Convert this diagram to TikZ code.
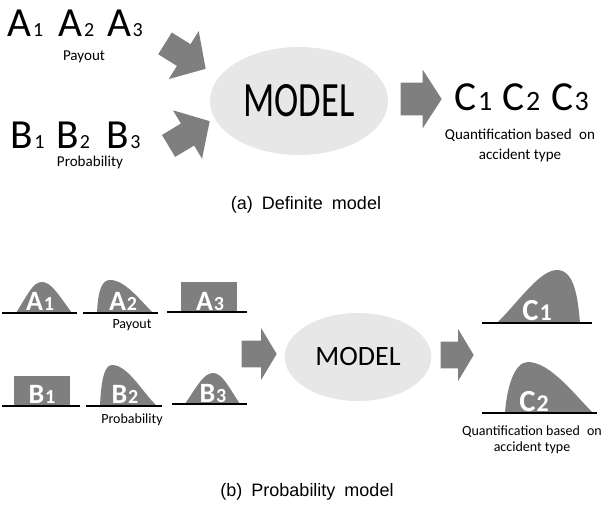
\documentclass[tikz,border=0pt]{standalone}
\usepackage{fontspec}
\setmainfont{Carlito}
\newfontfamily\capfont{Liberation Sans}
\newfontfamily\modelfont[FakeStretch=0.74]{Carlito}
\usetikzlibrary{shapes.arrows, shapes.geometric, positioning}

\definecolor{arrowgray}{RGB}{127,127,127}
\definecolor{ellgray}{RGB}{231,231,231}

% letter with a smaller figure on the same baseline
\newcommand{\sublbl}[3]{#1\kern.03em{\fontsize{#3}{#3}\selectfont #2}}

\begin{document}
\begin{tikzpicture}[
    x = 0.75pt, y = -0.75pt,
    bigarrow/.style = {single arrow, fill=arrowgray, draw=none, inner xsep=0pt, single arrow head indent=0pt, anchor=tip},
    modelbox/.style = {ellipse, fill=ellgray, draw=none, inner sep=0pt},
    toplbl/.style = {anchor=base, inner sep=0pt, font=\fontsize{31pt}{31pt}\selectfont},
    note/.style = {align=center, inner sep=0pt, font=\fontsize{11.3pt}{15pt}\selectfont},
    smallnote/.style = {align=center, inner sep=0pt, font=\fontsize{10.5pt}{12pt}\selectfont},
    bumplbl/.style = {anchor=base, inner sep=0pt, text=white, font=\bfseries\fontsize{21pt}{21pt}\selectfont},
    bump/.style = {fill=arrowgray},
    groundline/.style = {line width=1.2pt},
    caption/.style = {inner sep=0pt, font=\capfont\fontsize{13.5pt}{13.5pt}\selectfont}
]
    \useasboundingbox (0,0) rectangle (605,506);

    % (a) definite model
    \node [toplbl] (a1) at (25.5,37) {\sublbl{A}{1}{15pt}};
    \node [toplbl] (a2) at (76.5,37) {\sublbl{A}{2}{15pt}};
    \node [toplbl] (a3) at (125,37) {\sublbl{A}{3}{15pt}};
    \node [note] (payout) at (84,57) {Payout};
    \node [toplbl] (b1) at (27.5,148) {\sublbl{B}{1}{15pt}};
    \node [toplbl] (b2) at (73,148) {\sublbl{B}{2}{15pt}};
    \node [toplbl] (b3) at (123.5,148) {\sublbl{B}{3}{15pt}};
    \node [note] (prob) at (90,162) {Probability};

    \node [modelbox, minimum width=133.5pt, minimum height=81pt] (model) at (299,101)
        {\modelfont\fontsize{37pt}{37pt}\selectfont MODEL};
    \node [bigarrow, rotate=-32, minimum height=36pt, inner ysep=9.4pt,
           single arrow head extend=11.6pt, single arrow tip angle=95] (inA) at (206,69) {};
    \node [bigarrow, rotate=31, minimum height=36pt, inner ysep=9.4pt,
           single arrow head extend=11.6pt, single arrow tip angle=95] (inB) at (210,121) {};
    \node [bigarrow, minimum height=30.75pt, inner ysep=12pt,
           single arrow head extend=9.75pt, single arrow tip angle=114] (outC) at (442,99) {};

    \node [toplbl, font=\fontsize{31pt}{31pt}\selectfont] (c1) at (473.5,110) {\sublbl{C}{1}{21pt}};
    \node [toplbl, font=\fontsize{31pt}{31pt}\selectfont] (c2) at (521.5,110) {\sublbl{C}{2}{21pt}};
    \node [toplbl, font=\fontsize{31pt}{31pt}\selectfont] (c3) at (570,110) {\sublbl{C}{3}{21pt}};
    \node [note] (quant) at (520,145) {Quantification based\enspace on\\accident type};

    \node [caption] (capA) at (306,205) {(a)\enspace Definite\enspace model};

    % (b) probability model
    \fill [bump] (16,313) .. controls (28,294) and (33,282) .. (42,282) .. controls (51,282) and (58,294) .. (72,313) -- cycle;
    \fill [bump] (97,313) .. controls (98,290) and (102,280) .. (110,280) .. controls (125,280) and (140,300) .. (153,313) -- cycle;
    \fill [bump] (181,282) rectangle (237,312);
    \fill [bump] (14,376) rectangle (70,406);
    \fill [bump] (100,406) .. controls (101,382) and (104,365) .. (112,365) .. controls (128,365) and (142,392) .. (157,406) -- cycle;
    \fill [bump] (185,404) .. controls (197,386) and (204,373) .. (213,373) .. controls (222,373) and (228,386) .. (240,404) -- cycle;
    \fill [bump] (497,323) .. controls (520,300) and (540,270) .. (557,270) .. controls (575,270) and (578,300) .. (580,323) -- cycle;
    \fill [bump] (505,413) .. controls (507,385) and (515,362) .. (528,362) .. controls (550,362) and (575,395) .. (593,413) -- cycle;

    \draw [groundline] (2,313) -- (77,313);
    \draw [groundline] (83,313) -- (158,313);
    \draw [groundline] (167,312) -- (247,312);
    \draw [groundline] (2,406) -- (80,406);
    \draw [groundline] (86,406) -- (162,406);
    \draw [groundline] (172,404) -- (247,404);
    \draw [groundline] (482,323) -- (592,323);
    \draw [groundline] (482,413) -- (597,413);

    \node [bumplbl] (pa1) at (40,310) {\sublbl{A}{1}{15pt}};
    \node [bumplbl] (pa2) at (123,310) {\sublbl{A}{2}{15pt}};
    \node [bumplbl] (pa3) at (210,310) {\sublbl{A}{3}{15pt}};
    \node [bumplbl] (pb1) at (42,403) {\sublbl{B}{1}{15pt}};
    \node [bumplbl] (pb2) at (125,403) {\sublbl{B}{2}{15pt}};
    \node [bumplbl] (pb3) at (213,402) {\sublbl{B}{3}{15pt}};
    \node [smallnote] (ppayout) at (132,325) {Payout};
    \node [smallnote] (pprob) at (132,420) {Probability};

    \node [bigarrow, minimum height=26.25pt, inner ysep=9.75pt,
           single arrow head extend=9.4pt, single arrow tip angle=118] (pin) at (277,354) {};
    \node [modelbox, minimum width=110pt, minimum height=66pt] (pmodel) at (358,357)
        {\fontsize{21pt}{21pt}\selectfont MODEL};
    \node [bigarrow, minimum height=24.75pt, inner ysep=9.75pt,
           single arrow head extend=9.4pt, single arrow tip angle=118] (pout) at (474,355) {};

    \node [bumplbl, font=\bfseries\fontsize{23pt}{23pt}\selectfont] (pc1) at (537,320) {\sublbl{C}{1}{18pt}};
    \node [bumplbl, font=\bfseries\fontsize{23pt}{23pt}\selectfont] (pc2) at (534,411) {\sublbl{C}{2}{18pt}};
    \node [smallnote] (pquant) at (532,440) {Quantification based\enspace on\\accident type};

    \node [caption] (capB) at (307,492) {(b)\enspace Probability\enspace model};
\end{tikzpicture}
\end{document}
